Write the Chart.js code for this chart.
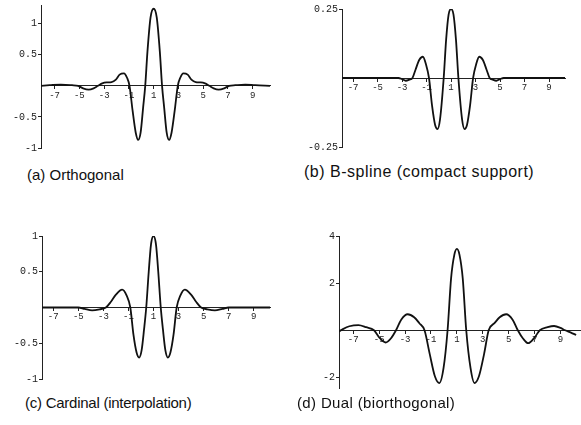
<!DOCTYPE html>
<html>
<head>
<meta charset="utf-8">
<script src="https://cdn.jsdelivr.net/npm/chart.js@4.4.0/dist/chart.umd.min.js"></script>
<style>
  html, body { margin: 0; padding: 0; background: #fff; }
  body { width: 581px; height: 425px; position: relative; overflow: hidden; }
  canvas { position: absolute; }
  .caption {
    position: absolute;
    font-family: "Liberation Sans", Arial, sans-serif;
    font-size: 15px;
    color: #111;
    white-space: nowrap;
    line-height: 17px;
  }
</style>
</head>
<body>
<canvas id="chart-a"></canvas>
<canvas id="chart-b"></canvas>
<canvas id="chart-c"></canvas>
<canvas id="chart-d"></canvas>
<div class="caption" id="cap-a"></div>
<div class="caption" id="cap-b"></div>
<div class="caption" id="cap-c"></div>
<div class="caption" id="cap-d"></div>
<script>
// shared x tick labels (odd integers)
const xTicks = [-7, -5, -3, -1, 1, 3, 5, 7, 9];

const captions = [
  "(a) Orthogonal",
  "(b) B-spline (compact support)",
  "(c) Cardinal (interpolation)",
  "(d) Dual (biorthogonal)",
];

// (a) orthogonal wavelet
const orthoX = [-8.1, -7.4, -6.5, -5.6, -5.1, -4.7, -4.25, -3.85, -3.5, -3.15, -2.8, -2.4, -2.05, -1.75, -1.4, -1.15, -0.95,
  -0.7, -0.45, -0.25, -0.05, 0.15, 0.32, 0.5, 0.75, 1.0, 1.25, 1.5, 1.68, 1.85, 2.05, 2.25, 2.45, 2.7, 2.95,
  3.15, 3.4, 3.75, 4.05, 4.4, 4.8, 5.15, 5.5, 5.85, 6.25, 6.7, 7.1, 7.6, 8.4, 9.2, 10.4];
const orthoY = [0.0, 0.01, 0.02, 0.01, 0.0, -0.04, -0.06, -0.04, 0.0, 0.04, 0.055, 0.06, 0.1, 0.18, 0.2, 0.13, 0.0,
  -0.4, -0.75, -0.87, -0.75, -0.35, 0.0, 0.55, 1.1, 1.24, 1.1, 0.55, 0.0, -0.35, -0.75, -0.87, -0.75, -0.4, 0.0,
  0.13, 0.2, 0.18, 0.1, 0.06, 0.055, 0.04, 0.0, -0.04, -0.06, -0.04, 0.0, 0.01, 0.02, 0.01, 0.0];
const orthoYTicks = [-1, -0.5, 0.5, 1];

// (b) B-spline wavelet
const bsplX = [-7.9, -3.3, -3.0, -2.7, -2.4, -2.15, -1.9, -1.6, -1.3, -1.05, -0.8, -0.55, -0.3, -0.1, 0.1, 0.4,
  0.6, 0.8, 1.0, 1.2, 1.4, 1.6, 1.9, 2.1, 2.3, 2.55, 2.8, 3.05, 3.3, 3.6, 3.9, 4.15, 4.4, 4.7, 5.0, 5.3, 10.3];
const bsplY = [0, 0, -0.004, -0.01, -0.006, 0.0, 0.03, 0.065, 0.077, 0.05, 0.0, -0.1, -0.17, -0.185, -0.15, 0.0,
  0.14, 0.23, 0.25, 0.23, 0.14, 0.0, -0.15, -0.185, -0.17, -0.1, 0.0, 0.05, 0.077, 0.065, 0.03, 0.0, -0.006, -0.01, -0.004, 0, 0];
const bsplYTicks = [-0.25, 0.25];

// (c) cardinal wavelet
const cardX = [-7.9, -5.0, -4.5, -3.9, -3.3, -2.8, -2.4, -2.0, -1.5, -1.15, -0.85, -0.6, -0.35, -0.15, 0.05, 0.25, 0.42,
  0.62, 0.8, 1.0, 1.2, 1.38, 1.58, 1.75, 1.95, 2.15, 2.35, 2.6, 2.85, 3.15, 3.5, 4.0, 4.4, 4.8, 5.3, 5.9, 6.5, 7.0, 10.3];
const cardY = [0, 0, -0.02, -0.04, -0.025, 0.0, 0.08, 0.18, 0.25, 0.17, 0.0, -0.38, -0.63, -0.7, -0.6, -0.3, 0.0,
  0.5, 0.88, 1.0, 0.88, 0.5, 0.0, -0.3, -0.6, -0.7, -0.63, -0.38, 0.0, 0.17, 0.25, 0.18, 0.08, 0.0, -0.025, -0.04, -0.02, 0, 0];
const cardYTicks = [-1, -0.5, 0.5, 1];

// (d) dual wavelet
const dualX = [-8.1, -7.8, -7.3, -6.6, -6.0, -5.4, -5.0, -4.5, -4.1, -3.7, -3.3, -2.8, -2.3, -1.9, -1.5, -1.1, -0.7,
  -0.35, -0.03, 0.28, 0.55, 0.8, 1.0, 1.2, 1.45, 1.72, 2.05, 2.35, 2.7, 3.1, 3.45, 3.9, 4.3, 4.8, 5.3, 5.7, 6.1,
  6.5, 7.0, 7.4, 8.0, 8.5, 9.0, 9.35, 9.8, 10.2];
const dualY = [-0.05, 0.05, 0.17, 0.22, 0.13, 0.0, -0.3, -0.52, -0.35, 0.0, 0.45, 0.68, 0.55, 0.3, 0.0, -1.0, -1.95,
  -2.24, -1.6, 0.0, 2.2, 3.2, 3.45, 3.2, 2.2, 0.0, -1.6, -2.24, -1.95, -1.0, 0.0, 0.3, 0.55, 0.68, 0.45, 0.0, -0.35,
  -0.55, -0.3, 0.0, 0.13, 0.18, 0.1, 0.0, -0.1, -0.2];
const dualYTicks = [-2, 2, 4];

const Y_LABEL_W = 40;
const PAD = 8;

function makePanel(id, box, xs, ys, xRange, yRange, yTicks) {
  const canvas = document.getElementById(id);
  canvas.width = box.right - box.left + Y_LABEL_W + 14;
  canvas.height = box.bottom - box.top + 2 * PAD;
  canvas.style.left = box.left - Y_LABEL_W + "px";
  canvas.style.top = box.top - PAD + "px";

  const axisColor = "#222";

  return new Chart(canvas, {
    type: "line",
    data: {
      datasets: [
        {
          data: xs.map((x, i) => ({ x: x, y: ys[i] })),
          borderColor: "#111",
          borderWidth: 1.8,
          pointRadius: 0,
          cubicInterpolationMode: "monotone",
          fill: false,
        },
      ],
    },
    options: {
      responsive: false,
      animation: false,
      layout: { padding: { top: PAD, bottom: PAD, left: 0, right: 14 } },
      plugins: { legend: { display: false }, tooltip: { enabled: false } },
      scales: {
        x: {
          type: "linear",
          min: xRange[0],
          max: xRange[1],
          position: { y: 0 },
          afterBuildTicks: (s) => {
            s.ticks = xTicks.map((v) => ({ value: v }));
          },
          grid: { drawOnChartArea: false, tickLength: 3, color: axisColor },
          border: { color: axisColor, width: 1 },
          ticks: {
            font: { family: "Liberation Mono", size: 9 },
            color: "#222",
            padding: 1,
            maxRotation: 0,
            autoSkip: false,
            callback: (v) => String(v),
          },
        },
        y: {
          type: "linear",
          min: yRange[0],
          max: yRange[1],
          position: "left",
          afterBuildTicks: (s) => {
            s.ticks = yTicks.map((v) => ({ value: v }));
          },
          afterFit: (s) => {
            s.width = Y_LABEL_W;
          },
          grid: { drawOnChartArea: false, tickLength: 3, color: axisColor },
          border: { color: axisColor, width: 1 },
          ticks: {
            font: { family: "Liberation Mono", size: 10 },
            color: "#222",
            padding: 1,
            callback: (v) => String(v),
          },
        },
      },
    },
  });
}

makePanel("chart-a", { left: 41, right: 270, top: 5, bottom: 148 }, orthoX, orthoY, [-8.1, 10.4], [-1, 1.3], orthoYTicks);
makePanel("chart-b", { left: 342, right: 565, top: 9, bottom: 147 }, bsplX, bsplY, [-7.9, 10.3], [-0.25, 0.25], bsplYTicks);
makePanel("chart-c", { left: 42, right: 270, top: 236, bottom: 379 }, cardX, cardY, [-7.9, 10.3], [-1, 1], cardYTicks);
makePanel("chart-d", { left: 339, right: 580, top: 236, bottom: 388 }, dualX, dualY, [-8.1, 10.5], [-2.45, 4], dualYTicks);

const capStyle = [
  { left: 27, top: 166, size: 15, spacing: 0 },
  { left: 304, top: 163, size: 16, spacing: 0.5 },
  { left: 25, top: 394, size: 15, spacing: -0.25 },
  { left: 297, top: 394, size: 15, spacing: 0.35 },
];
["cap-a", "cap-b", "cap-c", "cap-d"].forEach((id, i) => {
  const el = document.getElementById(id);
  el.textContent = captions[i];
  el.style.left = capStyle[i].left + "px";
  el.style.top = capStyle[i].top + "px";
  el.style.fontSize = capStyle[i].size + "px";
  el.style.letterSpacing = capStyle[i].spacing + "px";
});
</script>
</body>
</html>
